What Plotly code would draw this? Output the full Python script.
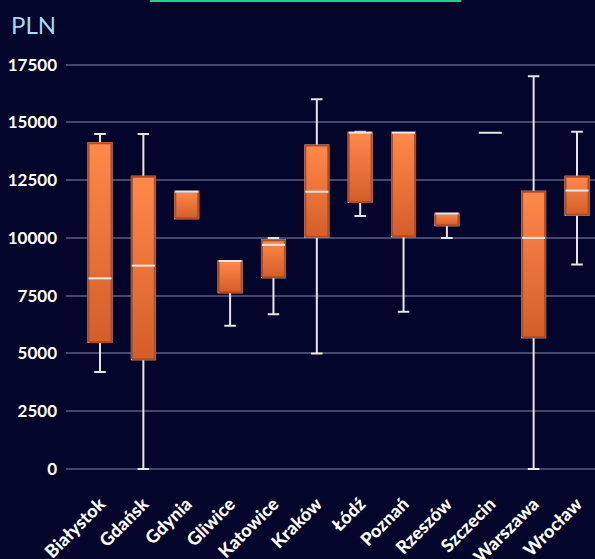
import plotly.graph_objects as go

cities = ["Białystok", "Gdańsk", "Gdynia", "Gliwice", "Katowice", "Kraków",
          "Łódź", "Poznań", "Rzeszów", "Szczecin", "Warszawa", "Wrocław"]
lower = [4200, 0, 10850, 6200, 6700, 5000, 10950, 6800, 10000, 14550, 0, 8850]
q1 = [5500, 4750, 10850, 7650, 8300, 10050, 11550, 10070, 10550, 14550, 5700, 11000]
median = [8250, 8800, 12000, 9000, 9700, 12000, 14550, 14550, 11050, 14550, 10000, 12050]
q3 = [14100, 12650, 12000, 9000, 9900, 14000, 14550, 14550, 11050, 14550, 12000, 12650]
upper = [14500, 14500, 12000, 9000, 10000, 16000, 14600, 14550, 11050, 14550, 17000, 14600]
yticks = [0, 2500, 5000, 7500, 10000, 12500, 15000, 17500]

BG = "#04052b"
WHITE = "#e6e6e6"
BOXW = 0.53
pos = list(range(len(cities)))

fig = go.Figure()
fig.add_trace(go.Box(
    x=pos, q1=q1, median=median, q3=q3, lowerfence=lower, upperfence=upper,
    width=BOXW, whiskerwidth=0.5, line=dict(color=WHITE, width=2),
    fillcolor="rgba(0,0,0,0)", boxpoints=False, showlegend=False, hoverinfo="skip",
))
for i in pos:
    if q3[i] > q1[i]:
        xl, xr = i - BOXW / 2, i + BOXW / 2
        fig.add_trace(go.Scatter(
            x=[xl, xr, xr, xl, xl], y=[q1[i], q1[i], q3[i], q3[i], q1[i]],
            mode="lines", fill="toself",
            fillgradient=dict(type="vertical",
                              colorscale=[[0, "#d35e2a"], [1, "#ff894a"]]),
            line=dict(color="#b24a22", width=2), showlegend=False, hoverinfo="skip",
        ))
        fig.add_trace(go.Scatter(
            x=[xl, xr], y=[median[i], median[i]], mode="lines",
            line=dict(color=WHITE, width=2), showlegend=False, hoverinfo="skip",
        ))

fig.add_shape(type="line", xref="paper", yref="paper", x0=(150 - 66) / 529, x1=(461 - 66) / 529,
              y0=1 + 59.5 / 415, y1=1 + 59.5 / 415, line=dict(color="#1ecf8f", width=3))

fig.update_layout(
    width=595, height=559,
    margin=dict(l=66, r=0, t=60, b=84),
    paper_bgcolor=BG, plot_bgcolor=BG,
    font=dict(family="Lato", color="white"),
    showlegend=False,
    annotations=[dict(text="PLN", xref="paper", yref="paper", x=-0.108, y=1.085,
                      xanchor="left", yanchor="middle", showarrow=False,
                      font=dict(size=24, color="#a8d8f0", family="Lato"))],
    xaxis=dict(range=[-0.784, 11.415], tickvals=pos, ticktext=cities, tickangle=-45,
               showgrid=False, zeroline=False, showline=False, ticklabelstandoff=14,
               automargin=False,
               tickfont=dict(size=18, color="white", family="Lato", weight=900)),
    yaxis=dict(range=[-261, 17700], tickvals=yticks, tickformat="d",
               gridcolor="#44466a", gridwidth=1.5, zeroline=False, showline=False,
               ticklabelstandoff=8, automargin=False,
               tickfont=dict(size=17, color="white", family="Lato", weight="bold")),
)
fig.write_html("out.html", config={"displayModeBar": False},
               post_script="document.body.style.margin='0';document.body.style.overflow='hidden';")
